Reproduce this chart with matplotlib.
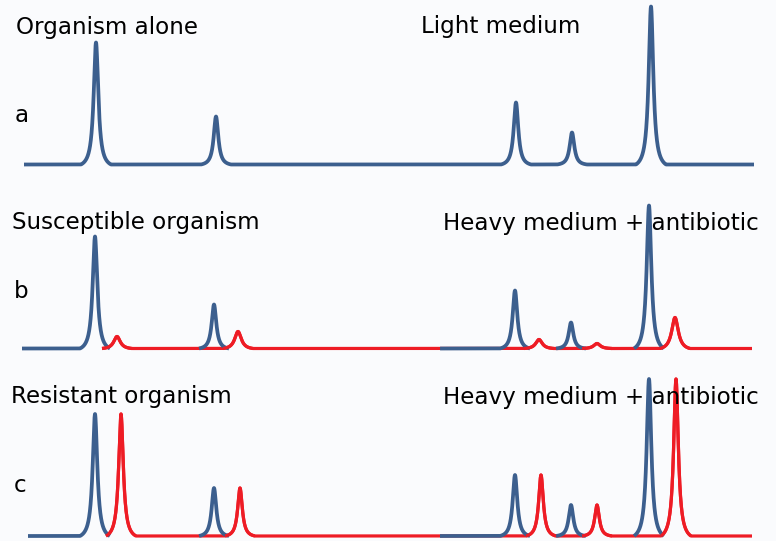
import numpy as np
import matplotlib
matplotlib.use("Agg")
import matplotlib.pyplot as plt

# ---------------- data ----------------
# peak positions (shift axis units) and peak heights (intensity units)
a_pos = [96, 216, 516, 572, 651]
a_hgt = [122, 48, 62, 32, 158]

b_blue_pos = [95, 214, 515, 571, 649]
b_blue_hgt = [112, 44, 58, 26, 143]
b_red_pos = [117, 238, 539, 597, 675]
b_red_hgt = [12, 17, 9, 5, 31]

c_blue_pos = [95, 214, 515, 571, 649]
c_blue_hgt = [122, 48, 61, 31, 157]
c_red_pos = [121, 240, 541, 597, 676]
c_red_hgt = [122, 48, 61, 31, 157]

# spectrum extents along the shift axis
a_range = (24, 754)
b_range = (22, 752)
c_range = (28, 752)

# start of the blue baseline stretch shown in front of the red trace (right half)
blue_front_start = 440

panel_letters = ["a", "b", "c"]
left_titles = ["Organism alone", "Susceptible organism", "Resistant organism"]
right_titles = ["Light medium", "Heavy medium + antibiotic", "Heavy medium + antibiotic"]

# ---------------- style ----------------
W, H = 776, 541
BG = "#fafbfd"
BLUE = "#3c5f8e"
RED = "#ee1c25"
FS = 16.6
G = 2.8      # peak half-width
D = 15       # half-width of peak base
LW_B = 2.7
LW_R = 2.3

fig = plt.figure(figsize=(W / 100, H / 100), dpi=100, facecolor=BG)


def spectrum(x, pos, hgt, g):
    y = np.zeros_like(x)
    Lc = g**2 / (D**2 + g**2)
    for p, h in zip(pos, hgt):
        d = x - p
        L = g**2 / (d**2 + g**2)
        y += np.where(np.abs(d) < D, h * (L - Lc) / (1 - Lc), 0.0)
    return y


def make_ax(baseline_px):
    lo, hi = 20, 180
    bottom = (H - (baseline_px + lo)) / H
    ax = fig.add_axes([0, bottom, 1, (lo + hi) / H])
    ax.set_xlim(0, W)
    ax.set_ylim(-lo, hi)
    ax.axis("off")
    ax.patch.set_alpha(0)
    return ax


def masked(x, y, ranges):
    m = np.zeros_like(x, dtype=bool)
    for a, b in ranges:
        m |= (x >= a) & (x <= b)
    return np.where(m, y, np.nan)


# panel a
ax = make_ax(164.5)
x = np.linspace(a_range[0], a_range[1], 8000)
ax.plot(x, spectrum(x, a_pos, a_hgt, G), color=BLUE, lw=LW_B,
        solid_capstyle="butt", solid_joinstyle="round")

# panels b and c
for base_px, rng, bp, bh, rp, rh, rg in [
    (348.5, b_range, b_blue_pos, b_blue_hgt, b_red_pos, b_red_hgt, 4.0),
    (536.0, c_range, c_blue_pos, c_blue_hgt, c_red_pos, c_red_hgt, G),
]:
    ax = make_ax(base_px)
    x = np.linspace(rng[0], rng[1], 8000)
    yb = spectrum(x, bp, bh, G)
    yr = spectrum(x, rp, rh, rg)
    red_start = rp[0] - D
    # red baseline + peaks underneath
    ax.plot(np.where(x >= red_start, x, np.nan), yr, color=RED, lw=LW_R,
            zorder=1, solid_capstyle="butt")
    # blue trace where it lies in front
    blue_ranges = [(rng[0], bp[0] + D)] + [(p - D, p + D) for p in bp[1:]] \
        + [(blue_front_start, bp[2])]
    ax.plot(x, masked(x, yb, blue_ranges), color=BLUE, lw=LW_B, zorder=2,
            solid_capstyle="butt", solid_joinstyle="round")
    # red peaks in front of the blue tails
    red_windows = [(p - D, p + D) for p in rp]
    ax.plot(x, masked(x, yr, red_windows), color=RED, lw=LW_R, zorder=3,
            solid_capstyle="butt")


# ---------------- text ----------------
def ftext(px, py, s):
    fig.text(px / W, 1 - py / H, s, fontsize=FS, color="black",
             ha="left", va="baseline", family="DejaVu Sans")


title_left_x = [15.7, 11.5, 11.0]
title_left_y = [34, 229, 403]
title_right_x = [421, 443, 443]
title_right_y = [33, 230, 404]
letter_x = [14.5, 14.0, 14.0]
letter_y = [122, 298, 492]

for i in range(3):
    ftext(title_left_x[i], title_left_y[i], left_titles[i])
    ftext(title_right_x[i], title_right_y[i], right_titles[i])
    ftext(letter_x[i], letter_y[i], panel_letters[i])

fig.savefig("out.png", dpi=100, facecolor=BG)
